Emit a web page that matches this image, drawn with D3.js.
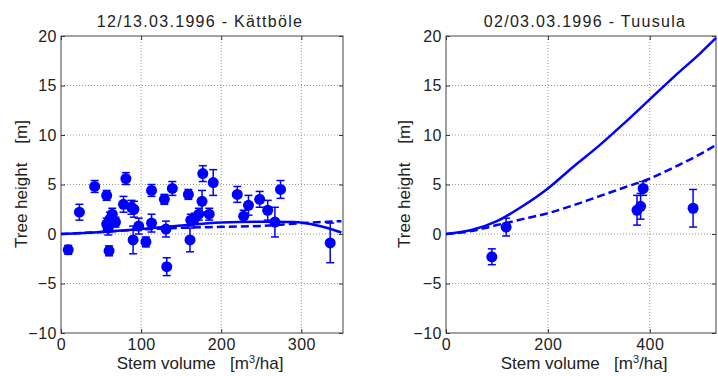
<!DOCTYPE html>
<html>
<head>
<meta charset="utf-8">
<title>Tree height vs stem volume</title>
<script src="https://cdn.jsdelivr.net/npm/d3@7"></script>
<style>
  body { margin: 0; background: #fff; }
  text { font-family: "Liberation Sans", Arial, sans-serif; fill: #222; }
</style>
</head>
<body>
<div id="container"></div>
<script>
// ---- data ----
// left panel: Kättböle  [stem volume, tree height, error]
var kattboleX = [9, 23, 42, 57, 57, 59, 60, 61, 64, 68, 78, 81, 88, 91, 90, 97, 106, 113, 113, 129,
                 131, 132, 139, 159, 161, 162, 167, 172, 176, 177, 185, 190, 220, 228, 234, 248, 258, 267, 274, 336];
var kattboleY = [-1.6, 2.2, 4.8, 3.9, 1.0, 0.6, -1.7, 1.5, 2.0, 1.2, 3.0, 5.6, 2.7, 2.5, -0.6, 0.8, -0.8, 4.4, 1.1, 3.5,
                 0.5, -3.3, 4.6, 4.0, -0.6, 1.4, 1.6, 2.0, 3.3, 6.1, 2.0, 5.2, 4.0, 1.8, 2.9, 3.5, 2.4, 1.2, 4.5, -0.9];
var kattboleErr = [0.45, 0.8, 0.6, 0.5, 0.6, 0.7, 0.5, 0.7, 0.6, 0.5, 0.8, 0.6, 0.7, 0.8, 1.4, 0.8, 0.5, 0.6, 0.9, 0.5,
                   0.8, 0.9, 0.7, 0.5, 1.2, 0.6, 0.5, 0.6, 1.1, 0.8, 0.6, 1.3, 0.8, 0.6, 1.0, 0.8, 1.0, 1.5, 0.9, 2.0];
var kattboleCurveX = [0, 50, 100, 150, 200, 250, 290, 320, 350];
var kattboleSolid  = [0, 0.2, 0.5, 0.85, 1.15, 1.25, 1.2, 0.85, 0.15];
var kattboleDashX  = [0, 50, 100, 150, 200, 250, 300, 350];
var kattboleDashed = [0, 0.2, 0.45, 0.62, 0.72, 0.82, 1.1, 1.3];

// right panel: Tuusula
var tuusulaX = [90, 118, 375, 382, 387, 485];
var tuusulaY = [-2.3, 0.7, 2.4, 2.8, 4.6, 2.6];
var tuusulaErr = [0.8, 0.9, 1.5, 1.3, 0.7, 1.9];
var tuusulaCurveX = [0, 50, 100, 150, 200, 250, 300, 350, 400, 450, 500, 530];
var tuusulaSolid  = [0, 0.4, 1.3, 2.8, 4.6, 6.8, 8.9, 11.2, 13.6, 16.0, 18.3, 19.8];
var tuusulaDashed = [0, 0.3, 0.9, 1.5, 2.1, 2.9, 3.8, 4.7, 5.6, 6.8, 8.1, 9.0];

var yTicks = [-10, -5, 0, 5, 10, 15, 20];
var kattboleTicks = [0, 100, 200, 300];
var tuusulaTicks = [0, 200, 400];

var width = 718, height = 376;
var blue = "#0000ff";

var svg = d3.select("#container").append("svg")
    .attr("width", width).attr("height", height);

function zip(xs, ys) { return xs.map(function(x, i) { return [x, ys[i]]; }); }

function drawPanel(p) {
  var x = d3.scaleLinear().domain([0, p.xmax]).range([p.left, p.right]);
  var y = d3.scaleLinear().domain([-10, 20]).range([333, 36]);
  var g = svg.append("g");

  // dotted grid
  g.selectAll(".gx").data(p.xticks.filter(function(d) { return d > 0; }))
    .enter().append("line")
    .attr("x1", d => x(d)).attr("x2", d => x(d)).attr("y1", y(20)).attr("y2", y(-10))
    .attr("stroke", "#999").attr("stroke-width", 1).attr("stroke-dasharray", "1,2");
  g.selectAll(".gy").data(yTicks.filter(function(d) { return d > -10 && d < 20; }))
    .enter().append("line")
    .attr("x1", p.left).attr("x2", p.right).attr("y1", d => y(d)).attr("y2", d => y(d))
    .attr("stroke", "#999").attr("stroke-width", 1).attr("stroke-dasharray", "1,2");

  // axes (ticks pointing inwards, on all four sides)
  g.append("g").attr("transform", "translate(0," + y(-10) + ")")
    .call(d3.axisBottom(x).tickValues(p.xticks).tickSize(-4).tickPadding(6))
    .call(function(a) { a.select(".domain").remove(); });
  g.append("g").attr("transform", "translate(0," + y(20) + ")")
    .call(d3.axisTop(x).tickValues(p.xticks).tickSize(-4).tickFormat(""))
    .call(function(a) { a.select(".domain").remove(); });
  g.append("g").attr("transform", "translate(" + p.left + ",0)")
    .call(d3.axisLeft(y).tickValues(yTicks).tickSize(-4).tickPadding(4))
    .call(function(a) { a.select(".domain").remove(); });
  g.append("g").attr("transform", "translate(" + p.right + ",0)")
    .call(d3.axisRight(y).tickValues(yTicks).tickSize(-4).tickFormat(""))
    .call(function(a) { a.select(".domain").remove(); });
  g.selectAll(".tick line").attr("stroke", "#333");
  g.selectAll(".tick text").style("font-size", "16px").attr("fill", "#222")
    .style("letter-spacing", "0.5px")
    .style("font-family", "'Liberation Sans', Arial, sans-serif");

  g.append("rect")
    .attr("x", p.left).attr("y", y(20))
    .attr("width", p.right - p.left).attr("height", y(-10) - y(20))
    .attr("fill", "none").attr("stroke", "#444").attr("stroke-width", 1);

  // fitted curves
  var line = d3.line().x(d => x(d[0])).y(d => y(d[1])).curve(d3.curveMonotoneX);
  g.append("path").datum(zip(p.dashX, p.dashed)).attr("d", line)
    .attr("fill", "none").attr("stroke", blue).attr("stroke-width", 2.5)
    .attr("stroke-dasharray", "8,4");
  g.append("path").datum(zip(p.curveX, p.solid)).attr("d", line)
    .attr("fill", "none").attr("stroke", blue).attr("stroke-width", 2.5);

  // measurements with error bars
  var pts = p.xs.map(function(v, i) { return { x: v, y: p.ys[i], e: p.errs[i] }; });
  var eb = g.selectAll(".eb").data(pts).enter().append("g")
    .attr("stroke", blue).attr("stroke-width", 1.5);
  eb.append("line").attr("x1", d => x(d.x)).attr("x2", d => x(d.x))
    .attr("y1", d => y(d.y - d.e)).attr("y2", d => y(d.y + d.e));
  eb.append("line").attr("x1", d => x(d.x) - 4).attr("x2", d => x(d.x) + 4)
    .attr("y1", d => y(d.y - d.e)).attr("y2", d => y(d.y - d.e));
  eb.append("line").attr("x1", d => x(d.x) - 4).attr("x2", d => x(d.x) + 4)
    .attr("y1", d => y(d.y + d.e)).attr("y2", d => y(d.y + d.e));
  g.selectAll(".pt").data(pts).enter().append("circle")
    .attr("cx", d => x(d.x)).attr("cy", d => y(d.y)).attr("r", 5.5)
    .attr("fill", blue);

  // labels
  g.append("text").attr("x", p.titleX).attr("y", 27).attr("text-anchor", "middle")
    .style("font-size", "16px").style("letter-spacing", "1.3px").text(p.title);
  var xl = g.append("text").attr("x", p.xlabelX).attr("y", 369).attr("text-anchor", "middle")
    .style("font-size", "17px").attr("xml:space", "preserve");
  xl.append("tspan").text("Stem volume   [m");
  xl.append("tspan").attr("dy", -6).style("font-size", "11px").text("3");
  xl.append("tspan").attr("dy", 6).text("/ha]");
  g.append("text").attr("transform", "translate(" + p.ylabelX + ",184) rotate(-90)")
    .attr("text-anchor", "middle").style("font-size", "17px")
    .attr("xml:space", "preserve").text("Tree height    [m]");
}

drawPanel({
  left: 61, right: 343, xmax: 352, xticks: kattboleTicks,
  title: "12/13.03.1996 - Kättböle", titleX: 200, xlabelX: 200, ylabelX: 27,
  xs: kattboleX, ys: kattboleY, errs: kattboleErr,
  curveX: kattboleCurveX, solid: kattboleSolid, dashX: kattboleDashX, dashed: kattboleDashed
});

drawPanel({
  left: 446, right: 716, xmax: 530, xticks: tuusulaTicks,
  title: "02/03.03.1996 - Tuusula", titleX: 585, xlabelX: 584, ylabelX: 410,
  xs: tuusulaX, ys: tuusulaY, errs: tuusulaErr,
  curveX: tuusulaCurveX, solid: tuusulaSolid, dashX: tuusulaCurveX, dashed: tuusulaDashed
});
</script>
</body>
</html>
